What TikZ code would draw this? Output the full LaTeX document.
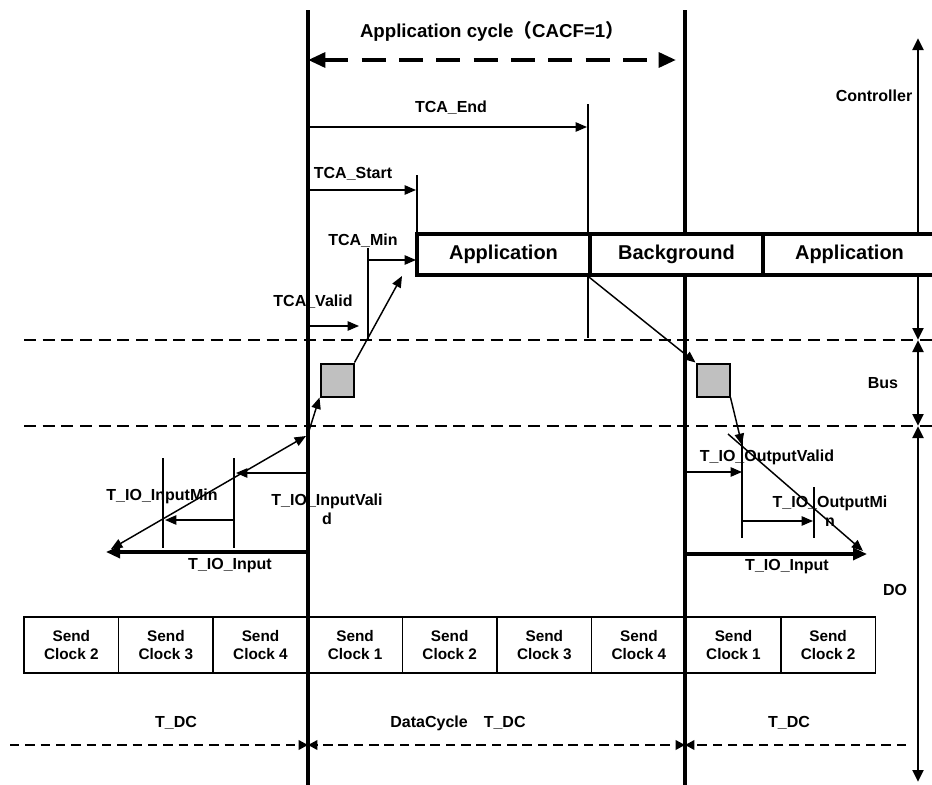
\documentclass[tikz,border=0pt]{standalone}
\usepackage{fontspec}
\setmainfont{Liberation Sans}
\newfontfamily\cjkfont{Noto Sans CJK SC}
\usetikzlibrary{arrows.meta}
\definecolor{pdugray}{RGB}{192,192,192}

\begin{document}
\begin{tikzpicture}[x=0.75pt, y=-0.75pt,
    lbl/.style={font=\bfseries\fontsize{12}{14.25}\selectfont, inner sep=0pt, align=center},
    task/.style={rectangle, draw, line width=2.4pt, fill=white, minimum width=129.75pt, minimum height=30.75pt, font=\bfseries\fontsize{15}{16}\selectfont},
    clock/.style={rectangle, draw, line width=1.1pt, minimum width=70.95pt, minimum height=42pt, align=center, inner sep=0pt, font=\bfseries\fontsize{11.5}{14}\selectfont},
    pdu/.style={rectangle, draw, line width=1.5pt, fill=pdugray, minimum size=24.75pt, inner sep=0pt},
    cycleline/.style={line width=2.6pt},
    bound/.style={line width=1.1pt},
    arrow/.style={-{Triangle[length=8.5pt,width=7pt]}, line width=1.1pt},
    dblarrow/.style={{Triangle[length=8.5pt,width=7pt]}-{Triangle[length=8.5pt,width=7pt]}, line width=1.1pt},
    thickarrow/.style={-{Triangle[length=10.5pt,width=9pt]}, line width=2.4pt},
    levelarrow/.style={{Triangle[length=9pt,width=8pt]}-{Triangle[length=9pt,width=8pt]}, line width=2.2pt},
    divider/.style={line width=1.1pt, dash pattern=on 9pt off 5pt},
    acarrow/.style={{Triangle[length=13pt,width=11pt]}-{Triangle[length=13pt,width=11pt]}, line width=3pt, dash pattern=on 18pt off 10pt},
    dcline/.style={line width=1.8pt, dash pattern=on 7pt off 4.5pt},
    dcarrow/.style={-{Triangle[length=7pt,width=7pt]}}
]
    \useasboundingbox (0,0) rectangle (932,785);

    \coordinate (Ltop) at (308,10);  \coordinate (Lbot) at (308,785);
    \coordinate (Rtop) at (685,10);  \coordinate (Rbot) at (685,785);
    \coordinate (ctrlTop) at (918,38); \coordinate (busTop) at (918,340);
    \coordinate (doTop) at (918,426);  \coordinate (doBot) at (918,782);

    \draw[cycleline] (Ltop) -- (Lbot);
    \draw[cycleline] (Rtop) -- (Rbot);
    \draw[levelarrow] (ctrlTop) -- (busTop);
    \draw[levelarrow] (busTop) -- (doTop);
    \draw[levelarrow] (doTop) -- (doBot);

    \coordinate (div1L) at (24,340);  \coordinate (div1R) at (932,340);
    \coordinate (div2L) at (24,426);  \coordinate (div2R) at (932,426);
    \draw[divider] (div1L) -- (div1R);
    \draw[divider] (div2L) -- (div2R);

    \node[lbl] (ctrl) at (874,96) {Controller};
    \node[lbl] (bus) at (883,383) {Bus};
    \node[lbl] (do) at (895,590) {DO};

    \node[lbl, font=\bfseries\fontsize{14}{16}\selectfont] (aclabel) at (492,31) {Application cycle{\cjkfont（}CACF=1{\cjkfont）}};
    \coordinate (acL) at (308,60); \coordinate (acR) at (676,60);
    \draw[acarrow] (acL) -- (acR);

    \coordinate (endS) at (308,127); \coordinate (endE) at (587,127);
    \coordinate (endT) at (588,104); \coordinate (endB) at (588,338);
    \node[lbl] (tcaend) at (451,108) {TCA\_End};
    \draw[arrow] (endS) -- (endE);
    \draw[bound] (endT) -- (endB);

    \coordinate (stS) at (308,190); \coordinate (stE) at (416,190);
    \coordinate (stT) at (417,175); \coordinate (stB) at (417,236);
    \node[lbl] (tcastart) at (353,174) {TCA\_Start};
    \draw[arrow] (stS) -- (stE);
    \draw[bound] (stT) -- (stB);

    \coordinate (minT) at (368,248); \coordinate (minB) at (368,340);
    \coordinate (minS) at (368,260); \coordinate (minE) at (416,260);
    \node[lbl] (tcamin) at (363,241) {TCA\_Min};
    \draw[bound] (minT) -- (minB);
    \draw[arrow] (minS) -- (minE);

    \coordinate (valS) at (308,326); \coordinate (valE) at (359,326);
    \node[lbl] (tcavalid) at (313,302) {TCA\_Valid};
    \draw[arrow] (valS) -- (valE);

    \node[task] (app1) at (503.5,254.5) {Application};
    \node[task] (bg) at (676.5,254.5) {Background};
    \node[task] (app2) at (849.5,254.5) {Application};

    \node[pdu] (sqL) at (337,380) {};
    \node[pdu] (sqR) at (713,380) {};

    \coordinate (inTop) at (308,434); \coordinate (appIn) at (402,276);
    \draw[arrow] (inTop) -- (sqL.south west);
    \draw[arrow] (sqL.north east) -- (appIn);
    \draw[arrow] (bg.south west) -- (sqR.north west);

    \coordinate (diagL) at (111,549); \coordinate (diagR) at (306,436);
    \draw[dblarrow] (diagR) -- (diagL);
    \coordinate (v1T) at (234,458); \coordinate (v1B) at (234,548);
    \coordinate (v2T) at (163,458); \coordinate (v2B) at (163,548);
    \draw[bound] (v1T) -- (v1B);
    \draw[bound] (v2T) -- (v2B);
    \coordinate (h1S) at (308,473); \coordinate (h1E) at (236,473);
    \coordinate (h2S) at (234,520); \coordinate (h2E) at (165,520);
    \draw[arrow] (h1S) -- (h1E);
    \draw[arrow] (h2S) -- (h2E);
    \coordinate (inS) at (308,552); \coordinate (inE) at (106,552);
    \draw[thickarrow] (inS) -- (inE);
    \node[lbl] (inmin) at (162,496) {T\_IO\_InputMin};
    \node[lbl] (invalid) at (327,509) {T\_IO\_InputVali\\d};
    \node[lbl] (input1) at (230,566) {T\_IO\_Input};

    \coordinate (outT) at (742,445);
    \draw[arrow] (sqR.south east) -- (outT);
    \coordinate (odS) at (728,434); \coordinate (odE) at (863,551);
    \draw[arrow] (odS) -- (odE);
    \coordinate (ov1T) at (742,440); \coordinate (ov1B) at (742,538);
    \coordinate (ov2T) at (814,487); \coordinate (ov2B) at (814,538);
    \draw[bound] (ov1T) -- (ov1B);
    \draw[bound] (ov2T) -- (ov2B);
    \coordinate (oh1S) at (687,472); \coordinate (oh1E) at (742,472);
    \coordinate (oh2S) at (742,521); \coordinate (oh2E) at (813,521);
    \draw[arrow] (oh1S) -- (oh1E);
    \draw[arrow] (oh2S) -- (oh2E);
    \coordinate (outS) at (685,554); \coordinate (outE) at (867,554);
    \draw[thickarrow] (outS) -- (outE);
    \node[lbl] (outvalid) at (767,457) {T\_IO\_OutputValid};
    \node[lbl] (outmin) at (830,511) {T\_IO\_OutputMi\\n};
    \node[lbl] (output) at (787,567) {T\_IO\_Input};

    \foreach \c [count=\i from 0] in {2,3,4,1,2,3,4,1,2}
        \node[clock] (clk\i) at ({71.3+94.6*\i},645) {Send\\Clock \c};

    \coordinate (dc0) at (10,745); \coordinate (dc1) at (308,745);
    \coordinate (dc2) at (685,745); \coordinate (dc3) at (906,745);
    \draw[dcline, dcarrow] (dc0) -- (dc1);
    \draw[dcline, dcarrow] (dc1) -- (dc2);
    \draw[dcline, dcarrow] (dc2) -- (dc1);
    \draw[dcline, dcarrow] (dc3) -- (dc2);
    \node[lbl] (dcl) at (176,723) {T\_DC};
    \node[lbl] (dcm) at (458,723) {DataCycle\hspace{1em}T\_DC};
    \node[lbl] (dcr) at (789,723) {T\_DC};
\end{tikzpicture}
\end{document}
